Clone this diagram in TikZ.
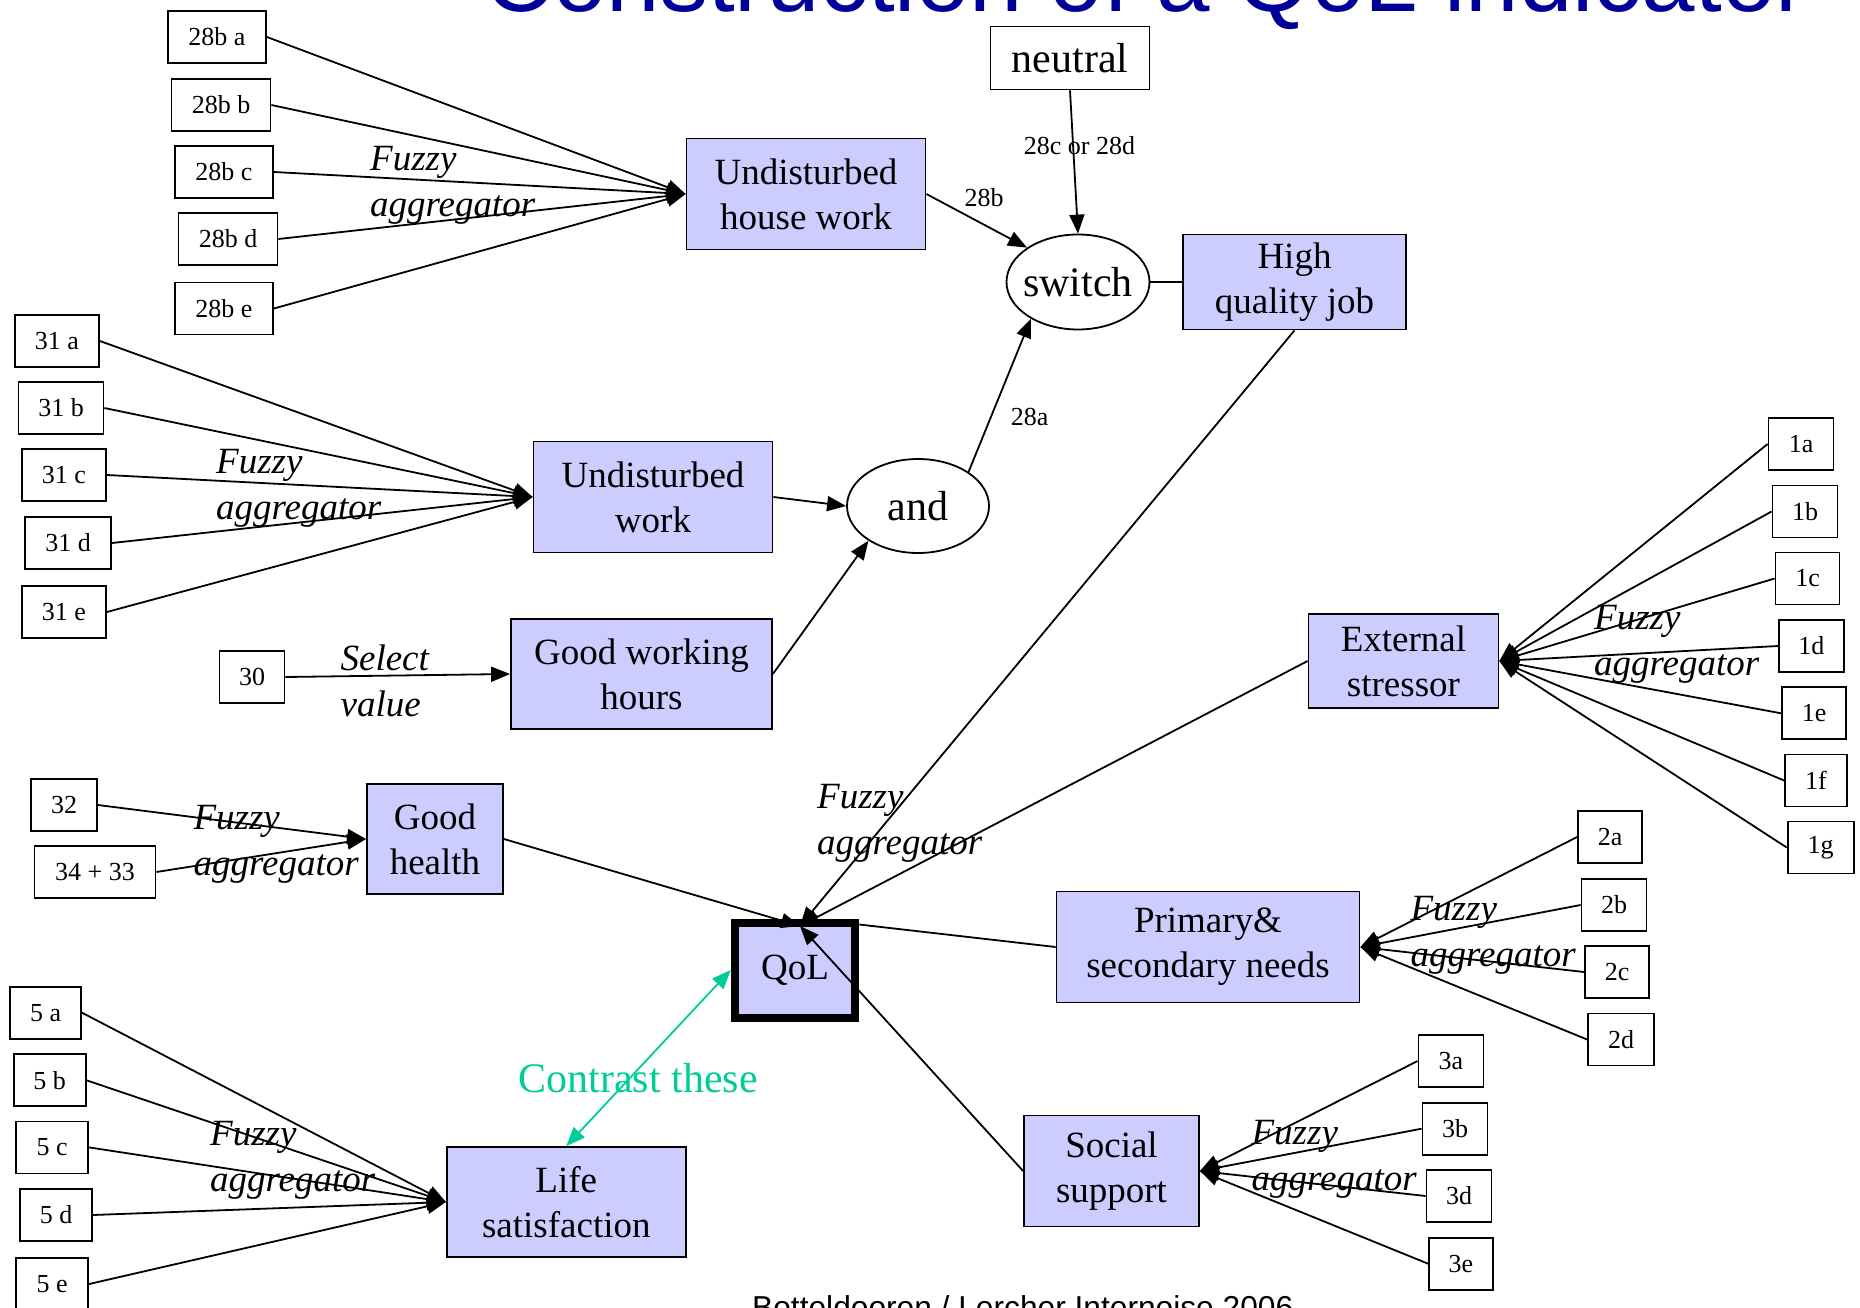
\documentclass[tikz,border=0pt]{standalone}
\usepackage{fontspec}
\setmainfont{Liberation Serif}
\newfontfamily\headfont{Liberation Sans}
\usetikzlibrary{arrows.meta,calc,shapes.geometric}
\definecolor{boxfill}{RGB}{204,204,255}
\definecolor{contrast}{RGB}{0,204,153}
\definecolor{titleblue}{RGB}{0,0,153}

\tikzset{
  item/.style={draw, line width=1.8pt, fill=white, inner sep=0pt, minimum height=52pt,
    font=\fontsize{26}{30}\selectfont},
  factor/.style={draw, line width=1.8pt, fill=boxfill, inner sep=0pt, align=center,
    font=\fontsize{37}{45}\selectfont},
  gate/.style={draw, ellipse, line width=1.8pt, fill=white, inner sep=0pt,
    font=\fontsize{42}{48}\selectfont},
  conn/.style={line width=1.8pt, -{Triangle[length=19pt,width=15pt]}},
  plain/.style={line width=1.8pt},
  agg/.style={align=left, anchor=west, inner sep=0pt, font=\fontsize{37}{46}\selectfont\itshape},
  elabel/.style={inner sep=0pt, font=\fontsize{26}{30}\selectfont},
}

\begin{document}
\begin{tikzpicture}[x=1pt, y=-1pt]
\useasboundingbox (0,0) rectangle (1860,1308);
\clip (0,0) rectangle (1860,1308);

% heading and credit line
\node[anchor=base west, inner sep=0pt, font=\headfont\fontsize{96}{100}\selectfont, text=titleblue]
  (title) at (484,12) {Construction of a QoL indicator};
\node[anchor=base west, inner sep=0pt, font=\headfont\fontsize{31.7}{36}\selectfont]
  (credit) at (752,1318) {Botteldooren / Lercher Internoise 2006};

% questionnaire items
\node[item, minimum width=98pt]  (b28a) at (217,37)    {28b a};
\node[item, minimum width=99pt]  (b28b) at (221,105)   {28b b};
\node[item, minimum width=98pt]  (b28c) at (224,172)   {28b c};
\node[item, minimum width=99pt]  (b28d) at (228,239)   {28b d};
\node[item, minimum width=98pt]  (b28e) at (224,308.5) {28b e};

\node[item, minimum width=84pt]  (b31a) at (57,341) {31 a};
\node[item, minimum width=85pt]  (b31b) at (61,408) {31 b};
\node[item, minimum width=84pt]  (b31c) at (64,475) {31 c};
\node[item, minimum width=86pt]  (b31d) at (68,543) {31 d};
\node[item, minimum width=84pt]  (b31e) at (64,612) {31 e};

\node[item, minimum width=65pt]  (b30) at (252,677) {30};
\node[item, minimum width=66pt]  (b32) at (64,805) {32};
\node[item, minimum width=121pt] (b3433) at (95,872) {34 + 33};

\node[item, minimum width=71pt]  (b5a) at (45.6,1012.7) {5 a};
\node[item, minimum width=72pt]  (b5b) at (49.7,1080.3) {5 b};
\node[item, minimum width=72pt]  (b5c) at (52.2,1147.4) {5 c};
\node[item, minimum width=72pt]  (b5d) at (56,1215)     {5 d};
\node[item, minimum width=72pt]  (b5e) at (52.2,1284)   {5 e};

\node[item, minimum width=65pt]  (b1a) at (1801,444)    {1a};
\node[item, minimum width=65pt]  (b1b) at (1805,511.5)  {1b};
\node[item, minimum width=64pt]  (b1c) at (1807.5,578.5){1c};
\node[item, minimum width=65pt]  (b1d) at (1811.4,646)  {1d};
\node[item, minimum width=64pt]  (b1e) at (1814,713.3)  {1e};
\node[item, minimum width=62pt]  (b1f) at (1816,780.5)  {1f};
\node[item, minimum width=66pt]  (b1g) at (1820.6,847.5){1g};

\node[item, minimum width=64pt]  (b2a) at (1610,837)    {2a};
\node[item, minimum width=65pt]  (b2b) at (1614,905)    {2b};
\node[item, minimum width=64pt]  (b2c) at (1617,972)    {2c};
\node[item, minimum width=66pt]  (b2d) at (1621,1039.5) {2d};

\node[item, minimum width=65pt]  (b3a) at (1451,1061)   {3a};
\node[item, minimum width=65pt]  (b3b) at (1455,1128.7) {3b};
\node[item, minimum width=65pt]  (b3d) at (1459,1196)   {3d};
\node[item, minimum width=64pt]  (b3e) at (1461,1263.7) {3e};

\node[item, minimum width=159pt, minimum height=63pt, font=\fontsize{42}{48}\selectfont]
  (neutral) at (1070,58) {neutral};

% aggregated factors
\node[factor, minimum width=239pt, minimum height=111pt] (HW)  at (806,194)    {Undisturbed\\house work};
\node[factor, minimum width=239pt, minimum height=111pt] (UW)  at (653,497)    {Undisturbed\\work};
\node[factor, minimum width=261pt, minimum height=110pt] (GWH) at (641.5,674)  {Good working\\hours};
\node[factor, minimum width=223pt, minimum height=95pt]  (HQJ) at (1294.5,282) {High\\quality job};
\node[factor, minimum width=190pt, minimum height=94pt]  (ES)  at (1403.5,661) {External\\stressor};
\node[factor, minimum width=136pt, minimum height=110pt] (GH)  at (435,839)    {Good\\health};
\node[factor, minimum width=303pt, minimum height=111pt] (PSN) at (1208,947)   {Primary\&\\secondary needs};
\node[factor, minimum width=175pt, minimum height=111pt] (SS)  at (1111.5,1171){Social\\support};
\node[factor, minimum width=239pt, minimum height=110pt] (LS)  at (566.3,1202) {Life\\satisfaction};
\node[factor, line width=8pt, minimum width=120.5pt, minimum height=95pt] (QoL) at (795,970) {QoL};

% logical gates
\node[gate, minimum width=143pt, minimum height=95pt] (switch) at (1078,282) {\makebox[0pt]{switch}};
\node[gate, minimum width=142pt, minimum height=94pt] (and)    at (918,506)  {\makebox[0pt]{and}};

\coordinate (qport) at (800,926);

% aggregation into the factors
\foreach \s in {b28a,b28b,b28c,b28d,b28e} \draw[conn] (\s.east) -- (HW.west);
\foreach \s in {b31a,b31b,b31c,b31d,b31e} \draw[conn] (\s.east) -- (UW.west);
\foreach \s in {b32,b3433} \draw[conn] (\s.east) -- (GH.west);
\foreach \s in {b5a,b5b,b5c,b5d,b5e} \draw[conn] (\s.east) -- (LS.west);
\foreach \s in {b1a,b1b,b1c,b1d,b1e,b1f,b1g} \draw[conn] (\s.west) -- (ES.east);
\foreach \s in {b2a,b2b,b2c,b2d} \draw[conn] (\s.west) -- (PSN.east);
\foreach \s in {b3a,b3b,b3d,b3e} \draw[conn] (\s.west) -- (SS.east);
\draw[conn] (b30.east) -- (GWH.west);

% job quality logic
\draw[conn] (UW.east) -- (and.west);
\draw[conn] (GWH.east) -- (and.215);
\draw[conn] (and.34) -- (switch.218);
\draw[conn] (HW.east) -- (switch.146);
\draw[conn] (neutral.south) -- (switch.north);
\draw[plain] (switch.east) -- (HQJ.west);

% everything flows into QoL
\draw[conn] (HQJ.south) -- (qport);
\draw[conn] (GH.east) -- (qport);
\draw[conn] (ES.west) -- (qport);
\draw[conn] (SS.west) -- (qport);
\draw[plain] (PSN.west) -- ([yshift=-6pt]QoL.north east);

\draw[contrast, line width=1.8pt, {Triangle[length=19pt,width=15pt]}-{Triangle[length=19pt,width=15pt]}]
  (LS.north) -- (QoL.west);

% edge labels
\node[elabel] (l28cd) at (1079.5,146) {28c or 28d};
\node[elabel] (l28b)  at (984,198)    {28b};
\node[elabel] (l28a)  at (1029.6,417.4) {28a};

\node[agg] (agg1) at (370,185)    {Fuzzy\\aggregator};
\node[agg] (agg2) at (216,488.6)  {Fuzzy\\aggregator};
\node[agg] (agg3) at (193.4,844.4){Fuzzy\\aggregator};
\node[agg] (agg4) at (817,823.7)  {Fuzzy\\aggregator};
\node[agg] (agg5) at (1594,644.5) {Fuzzy\\aggregator};
\node[agg] (agg6) at (1410.4,935.8){Fuzzy\\aggregator};
\node[agg] (agg7) at (1251.4,1159.4){Fuzzy\\aggregator};
\node[agg] (agg8) at (210,1160.5) {Fuzzy\\aggregator};
\node[agg] (sel)  at (340.4,681.3){Select\\value};

\node[inner sep=0pt, text=contrast, font=\fontsize{42}{48}\selectfont] (contrast) at (638.2,1077.9) {Contrast these};
\end{tikzpicture}
\end{document}
